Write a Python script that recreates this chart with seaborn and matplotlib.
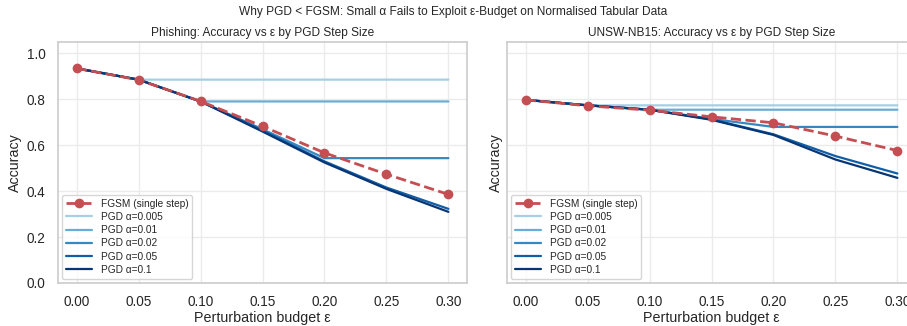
import numpy as np
import pandas as pd
import matplotlib
matplotlib.use("Agg")
import matplotlib.pyplot as plt
import seaborn as sns

eps = [0.00, 0.05, 0.10, 0.15, 0.20, 0.25, 0.30]
alphas = ["0.005", "0.01", "0.02", "0.05", "0.1"]

phish_fgsm = [0.935, 0.885, 0.792, 0.683, 0.567, 0.474, 0.386]
phish_pgd = {
    "0.005": [0.935, 0.886, 0.886, 0.886, 0.886, 0.886, 0.886],
    "0.01":  [0.935, 0.886, 0.791, 0.791, 0.791, 0.791, 0.791],
    "0.02":  [0.935, 0.886, 0.791, 0.670, 0.544, 0.544, 0.544],
    "0.05":  [0.935, 0.886, 0.791, 0.665, 0.530, 0.416, 0.323],
    "0.1":   [0.935, 0.886, 0.791, 0.660, 0.525, 0.410, 0.310],
}

unsw_fgsm = [0.798, 0.772, 0.753, 0.724, 0.698, 0.640, 0.577]
unsw_pgd = {
    "0.005": [0.798, 0.774, 0.774, 0.774, 0.774, 0.774, 0.774],
    "0.01":  [0.798, 0.774, 0.755, 0.755, 0.755, 0.755, 0.755],
    "0.02":  [0.798, 0.774, 0.755, 0.715, 0.680, 0.680, 0.680],
    "0.05":  [0.798, 0.774, 0.755, 0.713, 0.648, 0.553, 0.477],
    "0.1":   [0.798, 0.774, 0.755, 0.711, 0.645, 0.538, 0.458],
}

titles = ["Phishing: Accuracy vs ε by PGD Step Size",
          "UNSW-NB15: Accuracy vs ε by PGD Step Size"]
suptitle = "Why PGD < FGSM: Small α Fails to Exploit ε-Budget on Normalised Tabular Data"

sns.set_theme(style="whitegrid")
plt.rcParams["font.family"] = ["Liberation Sans", "DejaVu Sans"]
plt.rcParams["axes.edgecolor"] = "#cccccc"
plt.rcParams["grid.color"] = "#ebebeb"

fig = plt.figure(figsize=(9.07, 3.26), dpi=100)
W, H = 907, 326
ax1 = fig.add_axes([58 / W, 1 - 283 / H, 409 / W, 241 / H])
ax2 = fig.add_axes([507 / W, 1 - 283 / H, 409 / W, 241 / H], sharey=ax1)

blues = [plt.cm.Blues(v) for v in np.linspace(0.35, 0.98, 5)]

for ax, fg, pgd, title in [(ax1, phish_fgsm, phish_pgd, titles[0]),
                            (ax2, unsw_fgsm, unsw_pgd, titles[1])]:
    sns.lineplot(x=eps, y=fg, ax=ax, color="#c44e52", linestyle="--",
                 marker="o", markersize=7, markeredgewidth=0, linewidth=2,
                 label="FGSM (single step)", zorder=5)
    for a, c in zip(alphas, blues):
        sns.lineplot(x=eps, y=pgd[a], ax=ax, color=c, linewidth=1.6,
                     label=f"PGD α={a}")
    ax.set_xlim(-0.015, 0.315)
    ax.set_ylim(0, 1.05)
    ax.set_xticks(eps)
    ax.set_xticklabels([f"{e:.2f}" for e in eps])
    ax.set_yticks([0, 0.2, 0.4, 0.6, 0.8, 1.0])
    ax.set_yticklabels(["0.0", "0.2", "0.4", "0.6", "0.8", "1.0"])
    ax.tick_params(labelsize=9.8, pad=3)
    ax.set_xlabel("Perturbation budget ε", fontsize=10.3, labelpad=1)
    ax.set_ylabel("Accuracy", fontsize=10.3, labelpad=3)
    ax.set_title(title, fontsize=8.6, pad=4)
    for s in ax.spines.values():
        s.set_linewidth(1.2)
    leg = ax.legend(loc="lower left", fontsize=7.3, frameon=True,
                    borderaxespad=0.4, handlelength=2.6, labelspacing=0.32,
                    borderpad=0.4)
    leg.get_frame().set_edgecolor("#cccccc")

plt.setp(ax2.get_yticklabels(), visible=False)
fig.suptitle(suptitle, fontsize=8.6, y=1 - 12 / H, va="center")

fig.savefig("out.png", dpi=100)
